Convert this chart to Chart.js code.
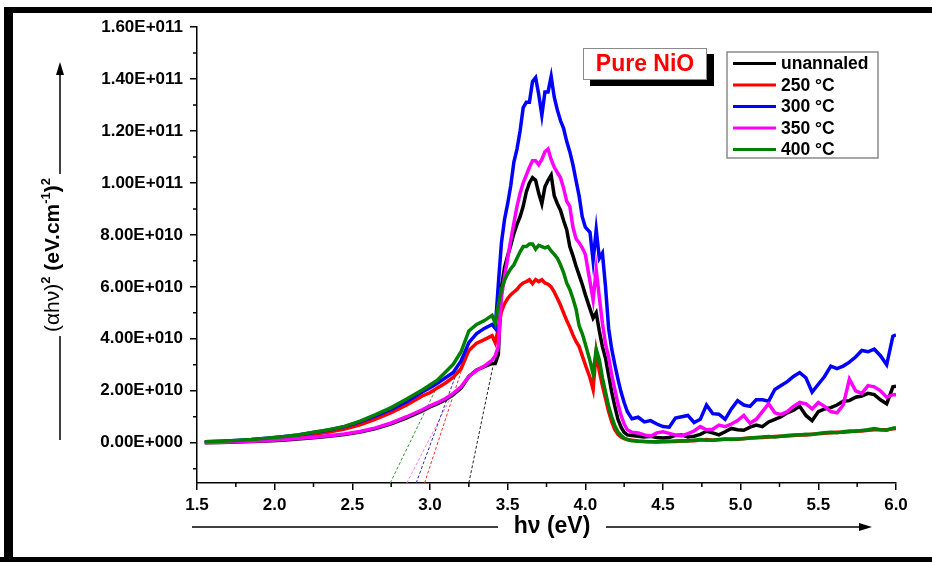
<!DOCTYPE html>
<html>
<head>
<meta charset="utf-8">
<title>Pure NiO - Tauc plot</title>
<script src="https://cdn.jsdelivr.net/npm/chart.js@4.4.1/dist/chart.umd.min.js"></script>
<style>
  body { margin: 0; background: #fff; }
  #wrap { width: 932px; height: 562px; position: relative; }
</style>
</head>
<body>
<div id="wrap"><canvas id="tauc" width="932" height="562"></canvas></div>
<script>
// (alpha h nu)^2 values are kept in units of 1E+010
const UNIT = 1e10;

// photon energy, eV
const energy = [
  1.55, 1.65, 1.75, 1.85, 1.95, 2.05, 2.15, 2.25, 2.35, 2.45, 2.55, 2.65, 2.75, 2.85, 2.95,
  3.00, 3.05, 3.10, 3.15, 3.20, 3.25, 3.30, 3.35, 3.40,
  3.42, 3.44, 3.46, 3.48, 3.50, 3.52, 3.54, 3.56, 3.58, 3.60, 3.62, 3.64, 3.66, 3.68, 3.70,
  3.72, 3.74, 3.76, 3.78, 3.80, 3.82, 3.84, 3.86, 3.88, 3.90, 3.92, 3.94, 3.96, 3.98, 4.00,
  4.03, 4.05, 4.07, 4.09, 4.11, 4.13, 4.15, 4.17, 4.19, 4.21, 4.23, 4.25, 4.27, 4.30,
  4.34, 4.38, 4.42, 4.46, 4.50, 4.54, 4.58, 4.62, 4.66, 4.70, 4.74, 4.78, 4.82, 4.86, 4.90,
  4.94, 4.98, 5.02, 5.06, 5.10, 5.14, 5.18, 5.22, 5.26, 5.30, 5.34, 5.38, 5.42, 5.46, 5.50,
  5.54, 5.58, 5.62, 5.66, 5.70, 5.74, 5.78, 5.82, 5.86, 5.90, 5.94, 5.98, 6.00
];

const unannealed = [
  0.00, 0.01, 0.03, 0.05, 0.07, 0.10, 0.14, 0.19, 0.25, 0.32, 0.41, 0.55, 0.73, 0.96, 1.22,
  1.38, 1.50, 1.65, 1.85, 2.10, 2.55, 2.80, 2.93, 3.05,
  3.05, 3.40, 6.00, 6.75, 7.20, 7.60, 8.05, 8.40, 8.70, 9.10, 9.65, 10.00, 10.20, 10.10, 9.60,
  9.20, 9.85, 10.10, 10.30, 9.50, 9.20, 8.95, 8.55, 8.20, 7.55, 7.20, 6.80, 6.45, 6.10, 5.70,
  5.15, 4.80, 5.00, 4.30, 3.70, 3.25, 2.60, 1.95, 1.40, 0.90, 0.60, 0.40, 0.30, 0.28,
  0.25, 0.22, 0.25, 0.20, 0.18, 0.20, 0.28, 0.30, 0.22, 0.25, 0.32, 0.44, 0.38, 0.30, 0.42,
  0.55, 0.50, 0.48, 0.60, 0.68, 0.62, 0.80, 0.90, 1.00, 1.15, 1.25, 1.40, 1.05, 0.85, 1.20,
  1.30, 1.35, 1.45, 1.60, 1.62, 1.75, 1.80, 1.90, 1.85, 1.65, 1.50, 2.15, 2.17
];

const anneal250 = [
  0.02, 0.04, 0.06, 0.09, 0.13, 0.18, 0.24, 0.32, 0.41, 0.53, 0.69, 0.91, 1.16, 1.45, 1.80,
  1.93, 2.12, 2.30, 2.52, 2.85, 3.55, 3.83, 3.97, 4.12,
  3.85, 4.40, 5.05, 5.35, 5.55, 5.70, 5.80, 5.90, 6.05, 6.15, 6.20, 6.27, 6.12, 6.28, 6.20,
  6.27, 6.15, 6.10, 6.00, 5.80, 5.55, 5.30, 5.00, 4.70, 4.45, 4.15, 3.90, 3.70, 3.35, 3.00,
  2.50, 2.05, 3.50, 2.75, 2.20, 1.70, 1.20, 0.80, 0.50, 0.32, 0.22, 0.16, 0.12, 0.10,
  0.07, 0.05, 0.04, 0.03, 0.04, 0.05, 0.05, 0.07, 0.08, 0.08, 0.10, 0.12, 0.10, 0.11, 0.13,
  0.14, 0.13, 0.16, 0.18, 0.19, 0.20, 0.22, 0.24, 0.25, 0.26, 0.28, 0.31, 0.30, 0.33, 0.35,
  0.36, 0.38, 0.40, 0.40, 0.42, 0.45, 0.45, 0.48, 0.50, 0.50, 0.50, 0.54, 0.55
];

const anneal300 = [
  0.04, 0.06, 0.09, 0.12, 0.17, 0.23, 0.30, 0.39, 0.49, 0.62, 0.80, 1.03, 1.28, 1.58, 1.95,
  2.12, 2.30, 2.50, 2.70, 3.15, 3.85, 4.20, 4.40, 4.55,
  4.40, 6.10, 7.70, 8.60, 9.20, 9.90, 10.80, 11.30, 12.00, 12.90, 13.10, 13.10, 13.90, 14.05, 13.40,
  12.60, 13.50, 13.50, 14.10, 13.30, 12.80, 12.40, 12.10, 11.60, 11.20, 10.70, 10.10, 9.50, 8.70, 8.30,
  8.10, 7.00, 8.20, 7.10, 7.30, 6.00, 4.40, 3.60, 3.00, 2.45, 1.95, 1.55, 1.20, 0.92,
  0.98, 0.80, 0.85, 0.72, 0.62, 0.60, 0.95, 1.00, 1.05, 0.78, 0.90, 1.45, 1.12, 1.10, 0.90,
  1.30, 1.62, 1.45, 1.40, 1.65, 1.65, 1.60, 2.05, 2.20, 2.35, 2.55, 2.70, 2.50, 1.95, 2.25,
  2.55, 2.95, 2.85, 2.95, 3.10, 3.30, 3.55, 3.50, 3.60, 3.35, 3.00, 4.10, 4.15
];

const anneal350 = [
  0.01, 0.02, 0.04, 0.06, 0.08, 0.12, 0.16, 0.21, 0.27, 0.34, 0.43, 0.57, 0.76, 1.00, 1.27,
  1.42, 1.55, 1.70, 1.90, 2.15, 2.55, 2.78, 2.95, 3.18,
  3.35, 3.70, 5.60, 6.40, 7.10, 7.80, 8.45, 9.10, 9.60, 10.00, 10.30, 10.60, 10.85, 10.85, 10.70,
  10.90, 11.20, 11.30, 10.90, 10.60, 10.40, 10.20, 9.80, 9.30, 9.10, 8.30, 7.85, 7.70, 7.50, 7.25,
  6.20, 5.50, 6.65, 5.60, 4.60, 3.80, 3.30, 2.60, 2.05, 1.50, 1.05, 0.72, 0.50, 0.40,
  0.38, 0.30, 0.25, 0.38, 0.42, 0.36, 0.30, 0.26, 0.35, 0.45, 0.62, 0.50, 0.52, 0.68, 0.62,
  0.72, 0.85, 1.05, 0.75, 0.90, 1.20, 1.50, 1.15, 1.08, 1.20, 1.40, 1.55, 1.50, 1.30, 1.55,
  1.40, 1.20, 1.15, 1.45, 2.45, 2.00, 1.90, 2.20, 2.15, 2.00, 1.75, 1.85, 1.85
];

const anneal400 = [
  0.04, 0.06, 0.09, 0.12, 0.17, 0.23, 0.30, 0.40, 0.50, 0.63, 0.83, 1.08, 1.35, 1.68, 2.03,
  2.22, 2.42, 2.72, 3.02, 3.50, 4.30, 4.55, 4.70, 4.90,
  4.60, 5.30, 5.90, 6.25, 6.50, 6.70, 6.85, 7.10, 7.35, 7.55, 7.55, 7.65, 7.65, 7.45, 7.60,
  7.55, 7.50, 7.55, 7.38, 7.25, 7.10, 6.85, 6.55, 6.15, 5.90, 5.55, 5.15, 4.50, 4.20, 3.80,
  3.15, 2.65, 3.60, 3.20, 2.50, 1.95, 1.40, 1.00, 0.65, 0.42, 0.28, 0.18, 0.12, 0.08,
  0.06, 0.05, 0.04, 0.04, 0.05, 0.05, 0.07, 0.08, 0.07, 0.10, 0.12, 0.10, 0.10, 0.12, 0.14,
  0.12, 0.14, 0.15, 0.18, 0.20, 0.22, 0.24, 0.22, 0.25, 0.28, 0.30, 0.30, 0.33, 0.32, 0.36,
  0.38, 0.40, 0.38, 0.42, 0.45, 0.44, 0.47, 0.50, 0.55, 0.50, 0.48, 0.56, 0.58
];

const seriesLabels = ["unannaled", "250 \u00B0C", "300 \u00B0C", "350 \u00B0C", "400 \u00B0C"];
const seriesColors = ["#000000", "#ff0000", "#0000ff", "#ff00ff", "#008000"];
const seriesValues = [unannealed, anneal250, anneal300, anneal350, anneal400];
// lower order is painted last, so the 400 C curve ends up on top
const drawOrder = [4, 3, 2, 1, 0];

// linear extrapolation of each absorption edge down to the energy axis
const tangentFoot = [3.250, 2.965, 2.911, 2.851, 2.744];
const tangentTopE = [3.410, 3.208, 3.179, 3.132, 3.051];
const tangentTopV = [3.08, 2.88, 2.81, 1.73, 2.23];
const tangentColors = ["#222222", "#ff2a2a", "#2c2ca8", "#ff77ff", "#2f9a2f"];

const xMajor = [1.5, 2.0, 2.5, 3.0, 3.5, 4.0, 4.5, 5.0, 5.5, 6.0];
const xMinor = [1.75, 2.25, 2.75, 3.25, 3.75, 4.25, 4.75, 5.25, 5.75];
const yMajor = [0, 2e10, 4e10, 6e10, 8e10, 1e11, 1.2e11, 1.4e11, 1.6e11];
const yMinor = [-1e10, 1e10, 3e10, 5e10, 7e10, 9e10, 1.1e11, 1.3e11, 1.5e11];
const yMin = -1.55e10, yMax = 1.6e11;

const FONT = "'Liberation Sans', Arial, sans-serif";

function sciLabel(v) {
  if (v === 0) return "0.00E+000";
  const exp = Math.floor(Math.log10(Math.abs(v)) + 1e-9);
  const m = v / Math.pow(10, exp);
  return m.toFixed(2) + "E+" + String(exp).padStart(3, "0");
}

function arrowHead(ctx, x, y, dir) {
  // dir: "up" or "right"
  ctx.beginPath();
  if (dir === "up") {
    ctx.moveTo(x, y);
    ctx.lineTo(x - 4, y + 13);
    ctx.lineTo(x + 4, y + 13);
  } else {
    ctx.moveTo(x, y);
    ctx.lineTo(x - 13, y - 4);
    ctx.lineTo(x - 13, y + 4);
  }
  ctx.closePath();
  ctx.fill();
}

function drawAxisTitles(ctx) {
  ctx.fillStyle = "#000";
  ctx.strokeStyle = "#000";
  ctx.lineWidth = 1.5;

  // x title with arrow
  ctx.font = "bold 23px " + FONT;
  ctx.textAlign = "center";
  ctx.textBaseline = "middle";
  ctx.fillText("h\u03BD (eV)", 552, 527);
  ctx.beginPath();
  ctx.moveTo(192, 527); ctx.lineTo(498, 527);
  ctx.moveTo(606, 527); ctx.lineTo(862, 527);
  ctx.stroke();
  arrowHead(ctx, 872, 527, "right");

  // y title, rotated, with superscripts
  const parts = [
    { t: "(\u03B1h\u03BD)", f: "21px " + FONT, dy: 0 },
    { t: "2", f: "bold 13px " + FONT, dy: -9 },
    { t: " (eV.cm", f: "bold 21px " + FONT, dy: 0 },
    { t: "-1", f: "bold 13px " + FONT, dy: -9 },
    { t: ")", f: "bold 21px " + FONT, dy: 0 },
    { t: "2", f: "bold 13px " + FONT, dy: -9 }
  ];
  let w = 0;
  parts.forEach(p => { ctx.font = p.f; p.w = ctx.measureText(p.t).width; w += p.w; });
  const cx = 51, cy = 255;
  ctx.save();
  ctx.translate(cx, cy);
  ctx.rotate(-Math.PI / 2);
  ctx.textAlign = "left";
  ctx.textBaseline = "alphabetic";
  let u = -w / 2;
  parts.forEach(p => {
    ctx.font = p.f;
    ctx.fillText(p.t, u, 8 + p.dy);
    u += p.w;
  });
  ctx.restore();
  ctx.beginPath();
  ctx.moveTo(60, 440); ctx.lineTo(60, cy + w / 2 + 4);
  ctx.moveTo(60, cy - w / 2 - 4); ctx.lineTo(60, 72);
  ctx.stroke();
  arrowHead(ctx, 60, 62, "up");
}

function drawNameBox(ctx) {
  ctx.fillStyle = "#000";
  ctx.fillRect(590, 54, 124, 32);
  ctx.fillStyle = "#fff";
  ctx.fillRect(583, 48, 124, 32);
  ctx.strokeStyle = "#8a8a8a";
  ctx.lineWidth = 1;
  ctx.strokeRect(583.5, 48.5, 123, 31);
  ctx.fillStyle = "#ff0000";
  ctx.font = "bold 23px " + FONT;
  ctx.textAlign = "center";
  ctx.textBaseline = "middle";
  ctx.fillText("Pure NiO", 645, 65);
}

function drawLegend(ctx) {
  const x0 = 727, y0 = 52, bw = 151, bh = 106;
  ctx.fillStyle = "#fff";
  ctx.fillRect(x0, y0, bw, bh);
  ctx.strokeStyle = "#8a8a8a";
  ctx.lineWidth = 1.5;
  ctx.strokeRect(x0, y0, bw, bh);
  ctx.font = "bold 17.5px " + FONT;
  ctx.textAlign = "left";
  ctx.textBaseline = "middle";
  seriesLabels.forEach((lab, i) => {
    const y = 63.5 + i * 21.5;
    ctx.strokeStyle = seriesColors[i];
    ctx.lineWidth = 3;
    ctx.beginPath();
    ctx.moveTo(733, y); ctx.lineTo(776, y);
    ctx.stroke();
    ctx.fillStyle = "#000";
    ctx.fillText(lab, 781, y + 1);
  });
}

function drawFrame(ctx) {
  ctx.fillStyle = "#000";
  ctx.fillRect(4, 7, 9, 555);
  ctx.fillRect(4, 7, 928, 6);
  ctx.fillRect(0, 557, 932, 5);
}

const decor = {
  id: "decor",
  afterDraw(chart) {
    const ctx = chart.ctx;
    const xs = chart.scales.x, ys = chart.scales.y;
    const area = chart.chartArea;
    ctx.save();
    // minor ticks
    ctx.strokeStyle = "#000";
    ctx.lineWidth = 1.5;
    ctx.beginPath();
    yMinor.forEach(v => {
      const py = ys.getPixelForValue(v);
      ctx.moveTo(area.left - 4, py); ctx.lineTo(area.left, py);
    });
    xMinor.forEach(v => {
      const px = xs.getPixelForValue(v);
      ctx.moveTo(px, area.bottom); ctx.lineTo(px, area.bottom + 4);
    });
    ctx.stroke();
    drawAxisTitles(ctx);
    drawNameBox(ctx);
    drawLegend(ctx);
    drawFrame(ctx);
    ctx.restore();
  }
};

const datasets = seriesValues.map((vals, i) => ({
  label: seriesLabels[i],
  data: energy.map((e, k) => ({ x: e, y: vals[k] * UNIT })),
  borderColor: seriesColors[i],
  borderWidth: 3.5,
  pointRadius: 0,
  tension: 0,
  order: drawOrder[i]
}));

tangentFoot.forEach((e0, i) => {
  datasets.push({
    label: "",
    data: [{ x: e0, y: yMin }, { x: tangentTopE[i], y: tangentTopV[i] * UNIT }],
    borderColor: tangentColors[i],
    borderWidth: 1,
    borderDash: [3, 2],
    pointRadius: 0,
    order: 9
  });
});

const tickFont = { family: FONT, size: 17, weight: "bold" };

new Chart(document.getElementById("tauc"), {
  type: "line",
  data: { datasets: datasets },
  options: {
    responsive: false,
    animation: false,
    layout: { padding: { left: 0, top: 27, right: 36, bottom: 0 } },
    plugins: {
      legend: { display: false },
      tooltip: { enabled: false }
    },
    scales: {
      x: {
        type: "linear",
        min: 1.5,
        max: 6.0,
        afterBuildTicks: axis => { axis.ticks = xMajor.map(v => ({ value: v })); },
        afterFit: axis => { axis.height = 79; },
        grid: { drawOnChartArea: false, color: "#000", lineWidth: 1.5, tickLength: 7 },
        border: { color: "#000", width: 1.5 },
        ticks: {
          color: "#000",
          font: tickFont,
          padding: 5,
          maxRotation: 0,
          callback: v => v.toFixed(1)
        }
      },
      y: {
        type: "linear",
        min: yMin,
        max: yMax,
        afterBuildTicks: axis => { axis.ticks = yMajor.map(v => ({ value: v })); },
        afterFit: axis => { axis.width = 197; },
        grid: { drawOnChartArea: false, color: "#000", lineWidth: 1.5, tickLength: 7 },
        border: { color: "#000", width: 1.5 },
        ticks: {
          color: "#000",
          font: tickFont,
          padding: 7,
          callback: v => sciLabel(v)
        }
      }
    }
  },
  plugins: [decor]
});
</script>
</body>
</html>
